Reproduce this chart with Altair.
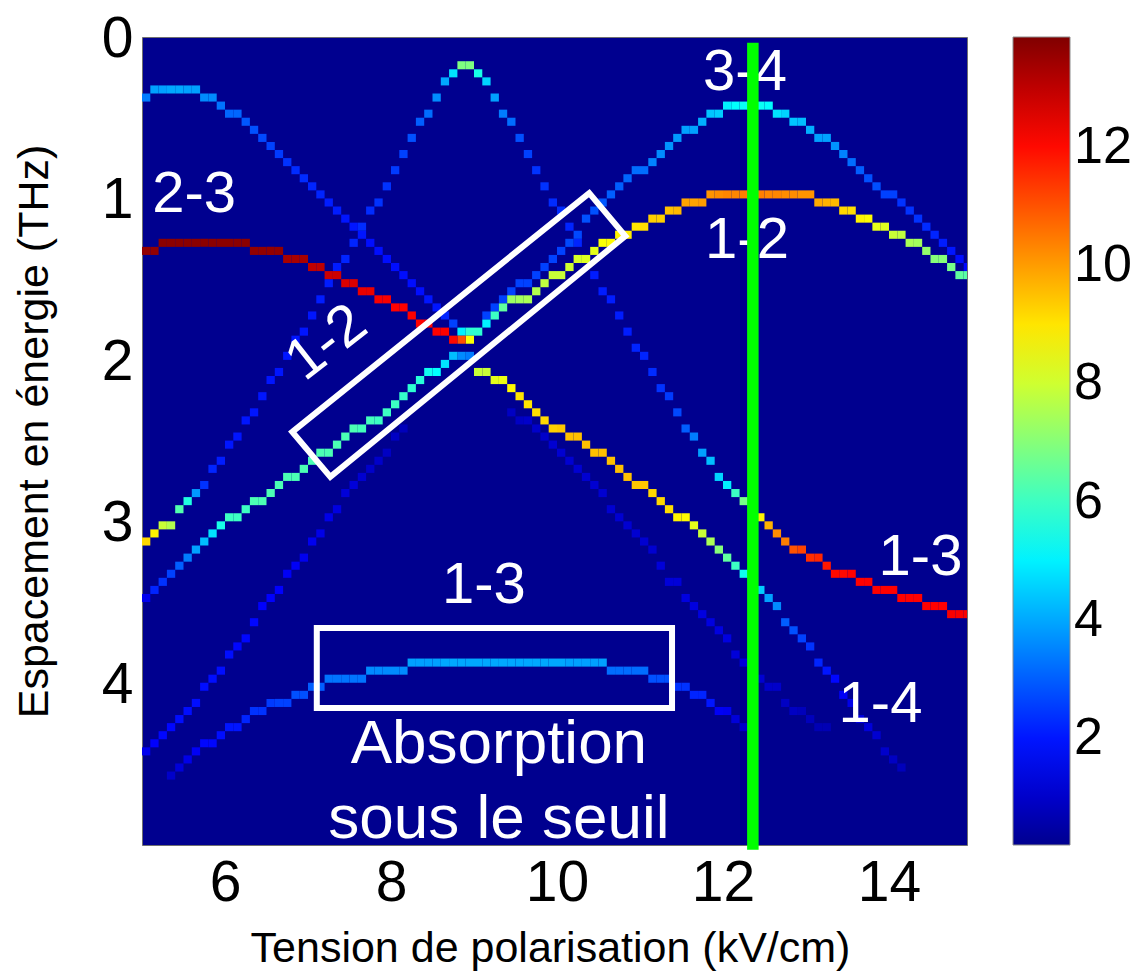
import altair as alt
import pandas as pd

# ------------------------------------------------------------------
# Data (grid: 0.1 kV/cm columns, 0.05 THz rows)
# Each trace: first column (kV/cm), energies (THz) per column, strengths
# ------------------------------------------------------------------
T1_X0 = 5.0
T1_E = [0.35, 0.30, 0.30, 0.30, 0.30, 0.30, 0.30, 0.35, 0.35, 0.40,
        0.45, 0.45, 0.50, 0.55, 0.60, 0.65, 0.70, 0.75, 0.80, 0.85,
        0.90, 0.95, 1.00, 1.05, 1.10, 1.15, 1.20, 1.25, 1.30, 1.35,
        1.40, 1.45, 1.50, 1.55, 1.60, 1.65, 1.70, 1.75, 1.80, 1.80,
        1.80, 1.75, 1.70, 1.65, 1.60, 1.60, 1.60, 1.55, 1.50, 1.45,
        1.45, 1.40, 1.35, 1.35, 1.30, 1.25, 1.25, 1.20, 1.20, 1.15,
        1.15, 1.10, 1.10, 1.05, 1.05, 1.00, 1.00, 1.00, 0.95, 0.95,
        0.95, 0.95, 0.95, 0.95, 0.95, 0.95, 0.95, 0.95, 0.95, 0.95,
        0.95, 1.00, 1.00, 1.00, 1.05, 1.05, 1.10, 1.10, 1.15, 1.15,
        1.20, 1.20, 1.25, 1.25, 1.30, 1.35, 1.35, 1.40, 1.45, 1.45]
T1_V = [3.4, 3.9, 3.9, 4.0, 4.0, 3.9, 3.9, 3.6, 3.6, 3.3,
        3.1, 3.1, 2.9, 2.8, 2.7, 2.6, 2.5, 2.4, 2.3, 2.3,
        2.2, 2.2, 2.1, 2.1, 2.0, 2.0, 2.0, 1.9, 1.9, 1.9,
        1.9, 1.9, 1.9, 1.9, 2.0, 2.0, 2.2, 2.6, 5.0, 5.8,
        5.8, 5.0, 6.0, 6.5, 7.3, 7.4, 7.5, 7.6, 7.8, 7.9,
        7.9, 8.0, 8.1, 8.2, 8.3, 8.6, 8.7, 8.8, 8.9, 9.0,
        9.1, 9.3, 9.3, 9.5, 9.6, 9.9, 9.9, 10.0, 10.1, 10.2,
        10.3, 10.3, 10.4, 10.4, 10.4, 10.3, 10.3, 10.2, 10.2, 10.1,
        10.1, 9.8, 9.7, 9.6, 9.2, 9.1, 8.8, 8.7, 8.3, 8.2,
        7.9, 7.8, 7.5, 7.4, 7.2, 7.0, 7.0, 6.8, 6.5, 6.4]

T2_X0 = 5.0
T2_E = [1.30, 1.30, 1.25, 1.25, 1.25, 1.25, 1.25, 1.25, 1.25, 1.25,
        1.25, 1.25, 1.25, 1.30, 1.30, 1.30, 1.30, 1.35, 1.35, 1.35,
        1.40, 1.40, 1.45, 1.45, 1.50, 1.50, 1.55, 1.55, 1.60, 1.60,
        1.65, 1.65, 1.70, 1.75, 1.75, 1.80, 1.80, 1.85, 1.85, 1.85]
T2_V = [13.6, 13.6, 13.7, 13.7, 13.7, 13.7, 13.7, 13.7, 13.7, 13.7,
        13.7, 13.7, 13.7, 13.6, 13.6, 13.6, 13.6, 13.3, 13.3, 13.3,
        13.0, 13.0, 12.8, 12.8, 12.6, 12.6, 12.4, 12.4, 12.2, 12.2,
        12.1, 12.1, 12.1, 12.1, 12.1, 12.1, 12.1, 12.0, 11.0, 8.6]

T3_X0 = 9.0
T3_E = [2.05, 2.05, 2.10, 2.10, 2.15, 2.20, 2.25, 2.30, 2.35, 2.40,
        2.40, 2.45, 2.45, 2.50, 2.55, 2.55, 2.60, 2.65, 2.70, 2.75,
        2.75, 2.80, 2.85, 2.90, 2.95, 2.95, 3.00, 3.05, 3.10, 3.15,
        3.20, 3.25, 3.30, 3.35, 3.40, 3.45, 3.50, 3.60, 3.65, 3.70,
        3.75, 3.85, 3.90, 3.95, 4.05, 4.10, 4.20, 4.25, 4.30, 4.40,
        4.45, 4.50]
T3_V = [7.9, 7.9, 8.3, 8.4, 8.7, 9.0, 9.0, 9.1, 9.2, 9.3,
        9.4, 9.5, 9.5, 9.5, 9.5, 9.5, 9.5, 9.5, 9.5, 9.4,
        9.4, 9.2, 9.2, 9.1, 8.8, 8.7, 8.3, 7.9, 7.5, 7.0,
        6.5, 6.0, 5.4, 5.0, 4.5, 3.9, 3.6, 3.0, 2.8, 2.6,
        2.4, 2.2, 2.0, 1.8, 1.6, 1.4, 1.3, 1.2, 1.1, 1.0,
        0.9, 0.8]

T4_X0 = 5.0
T4_E = [3.10, 3.05, 3.00, 3.00, 2.90, 2.85, 2.80, 2.75, 2.65, 2.60,
        2.50, 2.45, 2.35, 2.30, 2.20, 2.10, 2.05, 1.95, 1.85, 1.80,
        1.70, 1.60, 1.50, 1.40, 1.35, 1.25, 1.15, 1.05, 1.00, 0.90,
        0.80, 0.70, 0.60, 0.50, 0.45, 0.35, 0.25, 0.20, 0.15, 0.15,
        0.20, 0.25, 0.35, 0.45, 0.50, 0.60, 0.70, 0.80, 0.90, 1.00,
        1.05, 1.15, 1.25, 1.35, 1.45, 1.55, 1.60, 1.70, 1.80, 1.90,
        1.95, 2.05, 2.15, 2.20, 2.30, 2.40, 2.45, 2.55, 2.60, 2.70,
        2.75, 2.80, 2.85, 2.90, 2.95, 3.00, 3.05, 3.10, 3.15, 3.15,
        3.20, 3.20, 3.25, 3.30, 3.30, 3.30, 3.35, 3.35, 3.40, 3.40,
        3.40, 3.45, 3.45, 3.45, 3.50, 3.50, 3.50, 3.55, 3.55, 3.55]
T4_V = [9.2, 8.8, 7.9, 7.6, 6.3, 5.6, 3.8, 2.4, 2.2, 2.1,
        2.0, 2.0, 2.0, 2.0, 2.0, 2.0, 2.0, 2.0, 2.0, 2.0,
        2.0, 2.1, 2.1, 2.1, 2.2, 2.2, 2.3, 2.3, 2.4, 2.4,
        2.5, 2.6, 2.8, 3.0, 3.2, 3.6, 4.0, 4.8, 6.9, 6.9,
        5.5, 4.6, 3.9, 3.4, 3.2, 2.8, 2.6, 2.4, 2.4, 2.3,
        2.3, 2.2, 2.2, 2.1, 2.1, 2.1, 2.1, 2.1, 2.1, 2.2,
        2.2, 2.3, 2.4, 2.5, 2.7, 3.0, 3.4, 3.9, 4.3, 4.6,
        5.0, 6.0, 6.8, 7.6, 8.8, 9.7, 10.2, 10.4, 11.0, 11.2,
        11.5, 11.6, 11.8, 12.0, 12.0, 12.1, 12.1, 12.1, 12.1, 12.1,
        12.1, 12.1, 12.1, 12.1, 12.1, 12.1, 12.1, 12.2, 12.2, 12.2]

T5_X0 = 9.1
T5_E = [1.70, 1.65, 1.60, 1.55, 1.50, 1.50, 1.45, 1.40, 1.35,
        1.30, 1.25, 1.20, 1.10, 1.05, 1.00, 0.95, 0.90, 0.85, 0.80,
        0.80, 0.75, 0.70, 0.65, 0.60, 0.55, 0.55, 0.50, 0.45, 0.45,
        0.40, 0.40, 0.40, 0.40, 0.40, 0.40, 0.45, 0.45, 0.50, 0.50,
        0.55, 0.60, 0.60, 0.65, 0.70, 0.75, 0.80, 0.85, 0.90, 0.95,
        0.95, 1.00, 1.05, 1.10, 1.15, 1.20, 1.25, 1.30, 1.35, 1.40]
T5_V = [2.6, 2.6, 2.6, 2.6, 2.6, 2.6, 2.6, 2.6, 2.6,
        2.6, 2.7, 2.7, 2.8, 2.8, 2.9, 3.0, 3.0, 3.1, 3.2,
        3.2, 3.5, 3.6, 3.7, 3.8, 3.9, 3.9, 4.1, 4.4, 4.5,
        5.0, 5.2, 5.3, 5.3, 5.3, 5.2, 4.8, 4.6, 4.4, 4.3,
        4.1, 3.9, 3.9, 3.7, 3.5, 3.2, 3.0, 2.8, 2.8, 2.6,
        2.6, 2.4, 2.4, 2.4, 2.3, 2.2, 2.1, 2.0, 1.9, 1.8]

T6_X0 = 5.0
T6_E = [3.45, 3.40, 3.35, 3.30, 3.25, 3.20, 3.15, 3.10, 3.05, 3.00,
        2.95, 2.95, 2.90, 2.85, 2.85, 2.80, 2.75, 2.70, 2.70, 2.65,
        2.60, 2.55, 2.55, 2.50, 2.45, 2.40, 2.40, 2.35, 2.35, 2.30,
        2.25, 2.20, 2.15, 2.10, 2.05, 2.05, 2.00, 1.95, 1.95, 1.95]
T6_V = [1.5, 2.2, 2.4, 2.6, 3.0, 3.4, 3.9, 4.3, 4.8, 5.5,
        6.0, 6.0, 6.0, 6.2, 6.2, 6.2, 6.2, 6.2, 6.2, 6.2,
        6.2, 6.2, 6.2, 6.2, 6.2, 6.2, 6.1, 6.1, 6.0, 6.0,
        6.0, 5.9, 5.8, 5.7, 5.4, 5.2, 4.8, 4.3, 3.6, 3.4]

T7_X0 = 5.0
T7_E = [4.40, 4.35, 4.30, 4.25, 4.20, 4.15, 4.10, 4.00, 3.95, 3.90,
        3.80, 3.75, 3.70, 3.60, 3.50, 3.45, 3.40, 3.30, 3.25, 3.20,
        3.10, 3.05, 2.95, 2.90, 2.80, 2.75, 2.70, 2.65, 2.60, 2.55,
        2.45, 2.40]
T7_V = [1.5, 1.7, 1.8, 1.8, 1.9, 1.9, 1.9, 1.9, 1.9, 1.9,
        1.9, 1.8, 1.8, 1.8, 1.7, 1.7, 1.7, 1.6, 1.6, 1.5,
        1.5, 1.4, 1.4, 1.3, 1.2, 1.2, 1.1, 1.0, 1.0, 0.9,
        0.9, 0.8]

T8_X0 = 9.4
T8_E = [2.30, 2.35, 2.35, 2.40, 2.45, 2.50, 2.55, 2.60, 2.65, 2.70,
        2.75, 2.80, 2.90, 2.95, 3.00, 3.05, 3.10, 3.15, 3.25, 3.35,
        3.35, 3.45, 3.50, 3.55, 3.60, 3.65, 3.70, 3.80, 3.85, 3.90,
        3.95, 4.00, 4.00, 4.10, 4.15, 4.15, 4.20, 4.25, 4.25]
T8_V = [0.9, 0.9, 1.0, 1.0, 1.0, 1.1, 1.1, 1.1, 1.1, 1.1,
        1.1, 1.1, 1.1, 1.1, 1.1, 1.1, 1.1, 1.1, 1.2, 1.2,
        1.2, 1.3, 1.3, 1.3, 1.3, 1.3, 1.3, 1.2, 1.2, 1.1,
        1.1, 1.0, 1.0, 0.9, 0.9, 0.8, 0.8, 0.7, 0.7]

T9_X0 = 5.3
T9_E = [4.55, 4.50, 4.45, 4.40, 4.35, 4.35, 4.30, 4.25, 4.25, 4.20,
        4.15, 4.15, 4.10, 4.10, 4.10, 4.05, 4.05, 4.00, 4.00, 3.95,
        3.95, 3.95, 3.95, 3.95, 3.90, 3.90, 3.90, 3.90, 3.90, 3.85,
        3.85, 3.85, 3.85, 3.85, 3.85, 3.85, 3.85, 3.85, 3.85, 3.85,
        3.85, 3.85, 3.85, 3.85, 3.85, 3.85, 3.85, 3.85, 3.85, 3.85,
        3.85, 3.85, 3.85, 3.90, 3.90, 3.90, 3.90, 3.90, 3.95, 3.95,
        3.95, 4.00, 4.00, 4.05, 4.05, 4.10, 4.15, 4.15, 4.20, 4.25]
T9_V = [1.0, 1.2, 1.4, 1.6, 1.8, 1.8, 1.9, 2.0, 2.0, 2.2,
        2.4, 2.4, 2.5, 2.6, 2.6, 2.8, 2.8, 3.0, 3.0, 3.3,
        3.3, 3.3, 3.3, 3.3, 3.6, 3.6, 3.6, 3.6, 3.6, 3.9,
        3.9, 3.9, 3.9, 4.0, 4.0, 4.0, 4.0, 4.0, 4.0, 4.0,
        4.0, 4.0, 4.0, 4.0, 4.0, 4.0, 4.0, 4.0, 3.9, 3.9,
        3.9, 3.9, 3.9, 3.2, 3.2, 3.2, 3.2, 3.2, 2.8, 2.8,
        2.8, 2.4, 2.4, 2.2, 2.2, 2.0, 1.6, 1.5, 1.2, 1.0]

# axes / colour bar
X_DOMAIN = [5.0, 14.94]
Y_DOMAIN = [-0.015, 4.99]
X_TICKS = [6, 8, 10, 12, 14]
Y_TICKS = [0, 1, 2, 3, 4]
CBAR_TICKS = [2, 4, 6, 8, 10, 12]
V_MIN, V_MAX = 0.2, 13.85

# annotations
LABELS = ["2-3", "3-4", "1-2", "1-3", "1-3", "1-4"]
LABEL_X = [5.627, 12.265, 12.289, 9.12, 14.38, 13.898]
LABEL_Y = [1.067, 0.313, 1.354, 3.494, 3.318, 4.229]
CAPTION = ["Absorption", "sous le seuil"]
CAPTION_X = [9.30, 9.30]
CAPTION_Y = [4.485, 4.948]
ROT_LABEL = ["1-2"]
ROT_X = [7.229]
ROT_Y = [1.881]
BOX_X = [6.811, 10.389, 10.823, 7.269, 6.811, 10.389]
BOX_Y = [2.431, 0.952, 1.218, 2.710, 2.431, 0.952]
RECT_X = [7.106]
RECT_X2 = [11.386]
RECT_Y = [3.646]
RECT_Y2 = [4.141]
GREEN_X = [12.36]
GREEN_Y = [0.02]
GREEN_Y2 = [5.02]

# ------------------------------------------------------------------
traces = [
    (T1_X0, T1_E, T1_V), (T2_X0, T2_E, T2_V), (T3_X0, T3_E, T3_V),
    (T4_X0, T4_E, T4_V), (T5_X0, T5_E, T5_V), (T6_X0, T6_E, T6_V),
    (T7_X0, T7_E, T7_V), (T8_X0, T8_E, T8_V), (T9_X0, T9_E, T9_V),
]
rows = []
for x0, es, vs in traces:
    for i, (e, v) in enumerate(zip(es, vs)):
        x = round(x0 + 0.1 * i, 3)
        rows.append({"x": x, "x2": x + 0.1, "y": e - 0.015, "y2": e + 0.035, "v": v})
cells = pd.DataFrame(rows).sort_values("v")

FONT = "Liberation Sans"
xs = alt.Scale(domain=X_DOMAIN, nice=False, zero=False)
ys = alt.Scale(domain=Y_DOMAIN, reverse=True, nice=False, zero=False)

x_axis = alt.Axis(values=X_TICKS, title="Tension de polarisation (kV/cm)",
                  labelFontSize=57, titleFontSize=43, labelFont=FONT, titleFont=FONT,
                  labelColor="black", titleColor="black", titleFontWeight="normal",
                  domain=False, ticks=False, grid=False, labelPadding=10,
                  labelFlush=False, labelOverlap=False,
                  titleX=408, titleY=116, titleBaseline="alphabetic", titleAlign="center")
y_axis = alt.Axis(values=Y_TICKS, title="Espacement en énergie (THz)",
                  labelFontSize=57, titleFontSize=43, labelFont=FONT, titleFont=FONT,
                  labelColor="black", titleColor="black", titleFontWeight="normal",
                  domain=False, ticks=False, grid=False, labelPadding=9,
                  labelFlush=False, labelOverlap=False,
                  titleAngle=270, titleX=-95, titleY=394, titleBaseline="alphabetic",
                  titleAlign="center")

fr = [0.0, 7 / 63, 23 / 63, 39 / 63, 55 / 63, 1.0]
jet_dom = [V_MIN + f * (V_MAX - V_MIN) for f in fr]
jet_rng = ["#00008f", "#0000ff", "#00ffff", "#ffff00", "#ff0000", "#800000"]

heat = alt.Chart(cells).mark_rect(clip=True).encode(
    x=alt.X("x:Q", scale=xs, axis=x_axis),
    x2="x2:Q",
    y=alt.Y("y:Q", scale=ys, axis=y_axis),
    y2="y2:Q",
    color=alt.Color("v:Q",
                    scale=alt.Scale(domain=jet_dom, range=jet_rng, interpolate="rgb"),
                    legend=alt.Legend(values=CBAR_TICKS, orient="none", legendX=871, legendY=0,
                                      direction="vertical", gradientLength=808,
                                      gradientThickness=57, labelFontSize=52, labelFont=FONT,
                                      labelColor="black", labelOffset=4, padding=0,
                                      gradientStrokeColor="#8c8c8c", gradientStrokeWidth=1,
                                      labelOverlap=False, title=None)),
)

box_df = pd.DataFrame({"x": BOX_X, "y": BOX_Y, "o": list(range(len(BOX_X)))})
box = alt.Chart(box_df).mark_line(color="white", strokeWidth=6, strokeJoin="miter").encode(
    x=alt.X("x:Q", scale=xs, axis=x_axis), y=alt.Y("y:Q", scale=ys, axis=y_axis), order="o:Q")

rect_df = pd.DataFrame({"x": RECT_X, "x2": RECT_X2, "y": RECT_Y, "y2": RECT_Y2})
rect = alt.Chart(rect_df).mark_rect(fillOpacity=0, stroke="white", strokeWidth=6).encode(
    x=alt.X("x:Q", scale=xs, axis=x_axis), x2="x2:Q",
    y=alt.Y("y:Q", scale=ys, axis=y_axis), y2="y2:Q")

lab_df = pd.DataFrame({"x": LABEL_X, "y": LABEL_Y, "t": LABELS})
labels = alt.Chart(lab_df).mark_text(color="white", font=FONT, fontSize=58,
                                     align="center", baseline="alphabetic").encode(
    x=alt.X("x:Q", scale=xs, axis=x_axis), y=alt.Y("y:Q", scale=ys, axis=y_axis), text="t:N")

cap_df = pd.DataFrame({"x": CAPTION_X, "y": CAPTION_Y, "t": CAPTION})
caption = alt.Chart(cap_df).mark_text(color="white", font=FONT, fontSize=62,
                                      align="center", baseline="alphabetic").encode(
    x=alt.X("x:Q", scale=xs, axis=x_axis), y=alt.Y("y:Q", scale=ys, axis=y_axis), text="t:N")

rot_df = pd.DataFrame({"x": ROT_X, "y": ROT_Y, "t": ROT_LABEL})
rot = alt.Chart(rot_df).mark_text(color="white", font=FONT, fontSize=58, angle=322,
                                  align="center", baseline="middle").encode(
    x=alt.X("x:Q", scale=xs, axis=x_axis), y=alt.Y("y:Q", scale=ys, axis=y_axis), text="t:N")

green_df = pd.DataFrame({"x": GREEN_X, "y": GREEN_Y, "y2": GREEN_Y2})
green = alt.Chart(green_df).mark_rule(color="#00ff00", strokeWidth=11.5, clip=False,
                                      strokeCap="butt").encode(
    x=alt.X("x:Q", scale=xs, axis=x_axis), y=alt.Y("y:Q", scale=ys, axis=y_axis), y2="y2:Q")

chart = alt.layer(heat, box, rect, labels, caption, rot, green).properties(
    width=825, height=808,
    autosize=alt.AutoSizeParams(type="none"),
    padding={"left": 134, "top": 29, "right": 165, "bottom": 127},
    background="white",
).configure_view(fill="#00008f", stroke="#707070", strokeWidth=1)

chart.save("out.html", embed_options={"renderer": "svg", "actions": False})
